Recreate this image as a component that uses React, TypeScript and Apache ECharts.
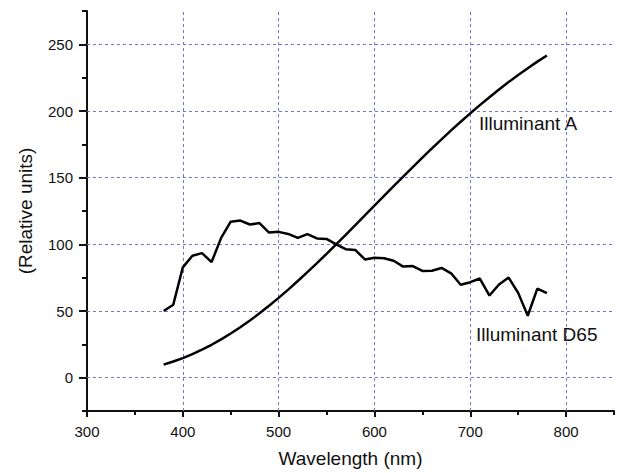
import React, { useEffect, useRef } from "react";
import * as echarts from "echarts";

const wavelengths = [
  380, 390, 400, 410, 420, 430, 440, 450, 460, 470, 480, 490, 500, 510, 520, 530, 540,
  550, 560, 570, 580, 590, 600, 610, 620, 630, 640, 650, 660, 670, 680, 690, 700, 710,
  720, 730, 740, 750, 760, 770, 780,
];
const illuminantA = [
  9.8, 12.09, 14.71, 17.68, 20.99, 24.67, 28.7, 33.09, 37.81, 42.87, 48.24, 53.91, 59.86,
  66.06, 72.5, 79.13, 85.95, 92.91, 100.0, 107.18, 114.44, 121.73, 129.04, 136.35, 143.62,
  150.84, 157.98, 165.03, 171.96, 178.77, 185.43, 191.93, 198.26, 204.41, 210.36, 216.12,
  221.67, 227.0, 232.12, 237.01, 241.68,
];
const illuminantD65 = [
  49.98, 54.65, 82.75, 91.49, 93.43, 86.68, 104.86, 117.01, 117.81, 114.86, 115.92, 108.81,
  109.35, 107.8, 104.79, 107.69, 104.41, 104.05, 100.0, 96.33, 95.79, 88.69, 90.01, 89.6,
  87.7, 83.29, 83.7, 80.03, 80.21, 82.28, 78.28, 69.72, 71.61, 74.35, 61.6, 69.89, 75.09,
  63.59, 46.42, 66.81, 63.38,
];
const xMajorTicks = [300, 400, 500, 600, 700, 800];
const yMajorTicks = [0, 50, 100, 150, 200, 250];
const xGridLines = [400, 500, 600, 700, 800];
const yGridLines = [0, 50, 100, 150, 200, 250];
const seriesNames = ["Illuminant A", "Illuminant D65"];
const xTitle = "Wavelength (nm)";
const yTitle = "(Relative units)";

const FONT = "'Liberation Sans', Arial, sans-serif";
const INK = "#111";

export default function App() {
  const ref = useRef<HTMLDivElement>(null);
  useEffect(() => {
    document.body.style.margin = "0";
    const chart = echarts.init(ref.current!, undefined, { renderer: "svg" });
    const pairsA = wavelengths.map((w, i) => [w, illuminantA[i]]);
    const pairsD = wavelengths.map((w, i) => [w, illuminantD65[i]]);
    const gridStyle = { color: "#6f75d6", width: 1, type: [3, 3] as any };
    chart.setOption({
      animation: false,
      textStyle: { fontFamily: FONT },
      grid: { left: 87, right: 3, top: 11, bottom: 62, containLabel: false },
      xAxis: [
        {
          type: "value",
          position: "bottom",
          min: 300,
          max: 850,
          name: xTitle,
          nameLocation: "middle",
          nameGap: 38,
          nameTextStyle: { fontSize: 19, color: INK, fontFamily: FONT },
          axisLine: { show: true, onZero: false, lineStyle: { color: INK, width: 2 } },
          axisTick: { show: true, inside: false, length: 6, customValues: xMajorTicks, lineStyle: { color: INK, width: 2 } },
          axisLabel: { customValues: xMajorTicks, fontSize: 15, color: INK, margin: 13, fontFamily: FONT },
          splitLine: { show: false },
        },
        {
          type: "value",
          position: "bottom",
          offset: 0,
          min: 300,
          max: 850,
          interval: 50,
          axisLine: { show: false, onZero: false },
          axisTick: { show: true, inside: false, length: 4, lineStyle: { color: INK, width: 2 } },
          axisLabel: { show: false },
          splitLine: { show: false },
        },
      ],
      yAxis: [
        {
          type: "value",
          position: "left",
          min: -25,
          max: 275,
          name: yTitle,
          nameLocation: "middle",
          nameGap: 52,
          nameRotate: 90,
          nameTextStyle: { fontSize: 19, color: INK, fontFamily: FONT },
          axisLine: { show: true, onZero: false, lineStyle: { color: INK, width: 2 } },
          axisTick: { show: true, inside: false, length: 8, customValues: yMajorTicks, lineStyle: { color: INK, width: 2 } },
          axisLabel: { customValues: yMajorTicks, fontSize: 15, color: INK, margin: 14, fontFamily: FONT },
          splitLine: { show: false },
        },
        {
          type: "value",
          position: "left",
          offset: 0,
          min: -25,
          max: 275,
          interval: 25,
          axisLine: { show: false, onZero: false },
          axisTick: { show: true, inside: false, length: 5, lineStyle: { color: INK, width: 2 } },
          axisLabel: { show: false },
          splitLine: { show: false },
        },
      ],
      series: [
        {
          name: seriesNames[0],
          type: "line",
          xAxisIndex: 0,
          yAxisIndex: 0,
          data: pairsA,
          showSymbol: false,
          symbol: "none",
          lineStyle: { color: "#000", width: 2.5 },
          z: 3,
          markLine: {
            silent: true,
            symbol: "none",
            label: { show: false },
            lineStyle: gridStyle,
            z: 1,
            data: [
              ...xGridLines.map((v) => ({ xAxis: v })),
              ...yGridLines.map((v) => ({ yAxis: v })),
            ],
          },
        },
        {
          name: seriesNames[1],
          type: "line",
          xAxisIndex: 0,
          yAxisIndex: 0,
          data: pairsD,
          showSymbol: false,
          symbol: "none",
          lineStyle: { color: "#000", width: 2.5 },
          z: 3,
        },
      ],
      graphic: [
        {
          type: "text",
          left: 479,
          top: 114,
          style: { text: seriesNames[0], fontSize: 19, fill: INK, fontFamily: FONT },
        },
        {
          type: "text",
          left: 476,
          top: 325,
          style: { text: seriesNames[1], fontSize: 19, fill: INK, fontFamily: FONT },
        },
      ],
    });
    return () => chart.dispose();
  }, []);
  return <div ref={ref} style={{ width: 617, height: 473 }} />;
}
